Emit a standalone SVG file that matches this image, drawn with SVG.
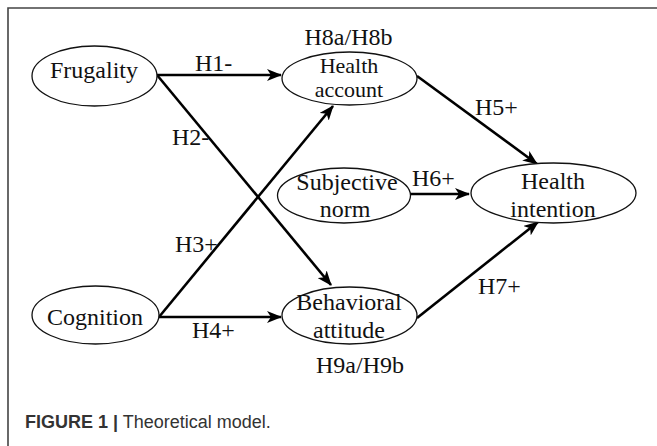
<svg xmlns="http://www.w3.org/2000/svg" width="657" height="446" viewBox="0 0 657 446">
<style>
.n ellipse{fill:#fff;stroke:#111;stroke-width:1.3}
text.t{font-family:'Liberation Serif','Times New Roman',Times,'DejaVu Serif',serif;font-size:24px;fill:#111}
text.s{font-size:22px}
text.m{text-anchor:middle}
.c line{stroke:#000;stroke-width:2.6;marker-end:url(#ah)}
text.cap{font-family:'Liberation Sans',Arial,sans-serif;font-size:18px;fill:#333}
</style>
<defs>
<marker id="ah" markerUnits="userSpaceOnUse" markerWidth="16" markerHeight="12" refX="14" refY="6" orient="auto">
<path d="M0,0 L15,6 L0,12 L4,6 z" fill="#000"/>
</marker>
</defs>
<rect width="657" height="446" fill="#fff"/>
<path d="M8,446 V8 H657" fill="none" stroke="#444" stroke-width="1.6"/>
<g class="c">
<line x1="157" y1="75" x2="281" y2="75"/>
<line x1="157" y1="75" x2="331" y2="285"/>
<line x1="159" y1="317" x2="333" y2="106"/>
<line x1="159" y1="317" x2="281" y2="317"/>
<line x1="417" y1="76" x2="537" y2="164"/>
<line x1="410" y1="194" x2="469" y2="194"/>
<line x1="417" y1="318" x2="538" y2="222"/>
</g>
<g class="n" id="frugality"><ellipse cx="94.5" cy="76" rx="62.5" ry="30"/><text class="t m" x="94" y="78">Frugality</text></g>
<g class="n" id="health-account"><ellipse cx="349.5" cy="78.5" rx="67.5" ry="26.5"/><text class="t s m" x="349" y="73">Health</text><text class="t s m" x="349" y="97">account</text></g>
<g class="n" id="subjective-norm"><ellipse cx="344" cy="195.5" rx="66.5" ry="27.5"/><text class="t m" x="347" y="190">Subjective</text><text class="t m" x="345" y="217">norm</text></g>
<g class="n" id="health-intention"><ellipse cx="553.5" cy="193" rx="82.5" ry="30"/><text class="t m" x="553" y="189">Health</text><text class="t m" x="553" y="217">intention</text></g>
<g class="n" id="cognition"><ellipse cx="95.5" cy="315" rx="63.5" ry="29"/><text class="t m" x="95" y="325">Cognition</text></g>
<g class="n" id="behavioral-attitude"><ellipse cx="349.5" cy="315.5" rx="67.5" ry="28.5"/><text class="t m" x="349" y="310">Behavioral</text><text class="t m" x="349" y="338">attitude</text></g>
<g id="labels">
<text class="t m" x="348.5" y="45">H8a/H8b</text>
<text class="t m" x="360" y="373">H9a/H9b</text>
<text class="t" x="195" y="71">H1-</text>
<text class="t" x="172" y="145">H2-</text>
<text class="t" x="175" y="252">H3+</text>
<text class="t" x="192" y="338">H4+</text>
<text class="t" x="475" y="115">H5+</text>
<text class="t" x="412" y="186">H6+</text>
<text class="t" x="478" y="294">H7+</text>
</g>
<text class="cap" x="25" y="428"><tspan font-weight="bold">FIGURE 1 |</tspan> Theoretical model.</text>
</svg>
